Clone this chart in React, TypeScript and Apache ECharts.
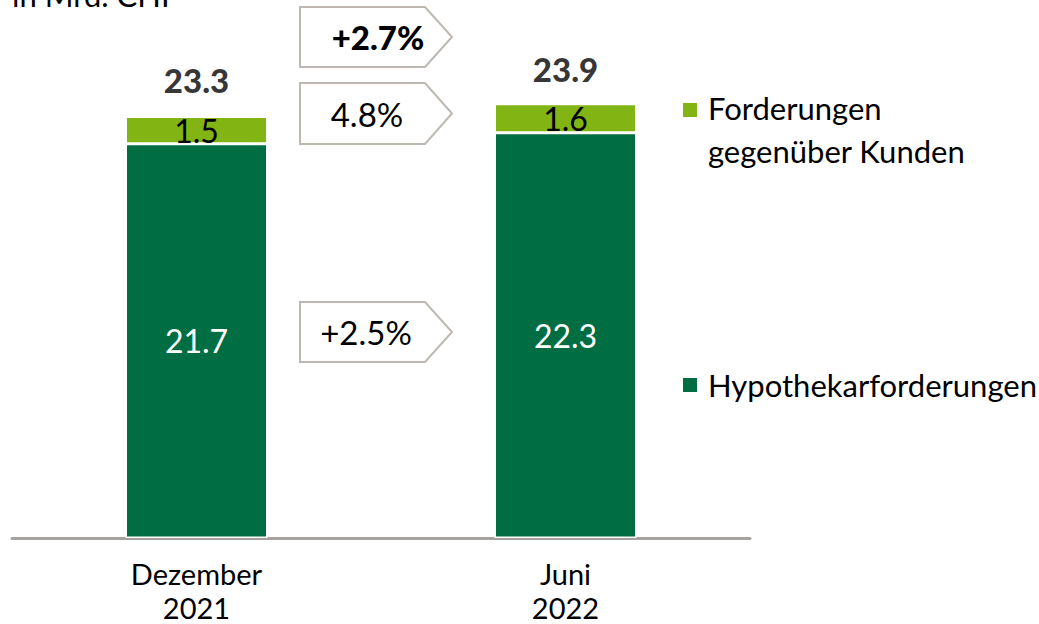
import React, { useEffect, useRef } from "react";
import * as echarts from "echarts";

const categories = ["Dezember\n2021", "Juni\n2022"];
const hypothekar = [21.7, 22.3];
const forderungen = [1.5, 1.6];
const totals = ["23.3", "23.9"];
const changeLabels = ["+2.7%", "4.8%", "+2.5%"];
const unitLabel = "in Mrd. CHF";
const legendNames = ["Forderungen\ngegenüber Kunden", "Hypothekarforderungen"];

const DARK = "#006E42";
const LIGHT = "#82B414";
const AXIS = "#A8A29E";
const BOX = "#BDB8B2";
const FONT = "Lato, 'Noto Sans', sans-serif";

function arrowBox(x: number, y: number, w: number, h: number, tip: number) {
  return [
    [x, y],
    [x + w, y],
    [x + w + tip, y + h / 2],
    [x + w, y + h],
    [x, y + h],
  ];
}

export default function App() {
  const ref = useRef<HTMLDivElement>(null);
  useEffect(() => {
    document.body.style.margin = "0";
    const chart = echarts.init(ref.current!, null, { renderer: "svg" });
    const boxes = [
      { y: 7, h: 60, cx: 378, text: changeLabels[0], bold: true, size: 33 },
      { y: 83, h: 61, cx: 367, text: changeLabels[1], bold: false, size: 33 },
      { y: 302, h: 60, cx: 366, text: changeLabels[2], bold: false, size: 33 },
    ];
    chart.setOption({
      animation: false,
      grid: { left: 12, right: 289, top: 31, bottom: 86 },
      xAxis: {
        type: "category",
        data: categories,
        axisLine: { show: true, lineStyle: { color: AXIS, width: 3 } },
        axisTick: { show: false },
        axisLabel: {
          color: "#000",
          fontSize: 29,
          lineHeight: 34,
          margin: 18,
          fontFamily: FONT,
          fontWeight: 400,
        },
      },
      yAxis: {
        type: "value",
        min: 0,
        max: 27.9,
        show: false,
        splitLine: { show: false },
      },
      series: [
        {
          name: legendNames[1],
          type: "bar",
          stack: "total",
          data: hypothekar,
          barWidth: 142,
          itemStyle: { color: DARK, borderColor: "#fff", borderWidth: 1.5 },
          label: {
            show: true,
            position: "inside",
            color: "#fff",
            fontSize: 32,
            fontFamily: FONT,
            fontWeight: 400,
            formatter: (p: any) => p.value.toFixed(1),
          },
        },
        {
          name: legendNames[0],
          type: "bar",
          stack: "total",
          data: forderungen,
          barWidth: 142,
          itemStyle: { color: LIGHT, borderColor: "#fff", borderWidth: 1.5 },
          label: {
            show: true,
            position: "inside",
            color: "#000",
            fontSize: 32,
            fontFamily: FONT,
            fontWeight: 400,
            formatter: (p: any) => p.value.toFixed(1),
          },
        },
        {
          name: "Total",
          type: "scatter",
          data: totals.map((t) => parseFloat(t)),
          symbolSize: 0,
          silent: true,
          label: {
            show: true,
            position: "top",
            distance: 18,
            color: "#000",
            fontSize: 33,
            fontWeight: 900,
            fontFamily: FONT,
            formatter: (p: any) => totals[p.dataIndex],
          },
        },
      ],
      graphic: [
        {
          type: "text",
          left: 12,
          top: -21,
          style: { text: unitLabel, fontSize: 31, fontFamily: FONT, fill: "#000" },
        },
        ...boxes.flatMap((b) => [
          {
            type: "polygon",
            shape: { points: arrowBox(300, b.y, 125, b.h, 27) },
            style: { fill: "#fff", stroke: BOX, lineWidth: 2 },
          },
          {
            type: "text",
            x: b.cx,
            y: b.y + b.h / 2,
            style: {
              text: b.text,
              fontSize: b.size,
              fontWeight: b.bold ? 900 : 400,
              fontFamily: FONT,
              fill: "#000",
              align: "center",
              verticalAlign: "middle",
            },
          },
        ]),
        {
          type: "rect",
          shape: { x: 683, y: 103, width: 14, height: 14 },
          style: { fill: LIGHT },
        },
        {
          type: "text",
          x: 708,
          y: 86,
          style: {
            text: legendNames[0],
            fontSize: 31,
            lineHeight: 43,
            fontFamily: FONT,
            fontWeight: 400,
            fill: "#000",
            verticalAlign: "top",
          },
        },
        {
          type: "rect",
          shape: { x: 683, y: 378, width: 14, height: 14 },
          style: { fill: DARK },
        },
        {
          type: "text",
          x: 708,
          y: 385,
          style: {
            text: legendNames[1],
            fontSize: 31,
            fontFamily: FONT,
            fontWeight: 400,
            fill: "#000",
            verticalAlign: "middle",
          },
        },
      ],
    });
    return () => chart.dispose();
  }, []);
  return <div ref={ref} style={{ width: 1039, height: 624 }} />;
}
